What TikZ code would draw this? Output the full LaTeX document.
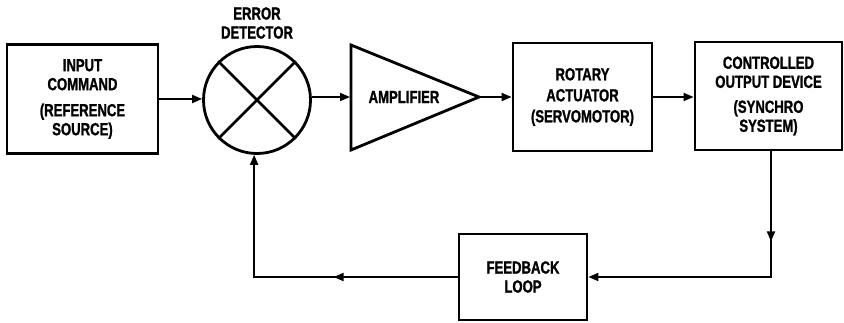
\documentclass[tikz,border=0pt]{standalone}
\usepackage{fontspec}
\setmainfont{Liberation Sans}[FakeStretch=0.75,FakeBold=1.2]
\usetikzlibrary{arrows.meta,decorations.markings}
\begin{document}
\begin{tikzpicture}[x=1pt,y=-1pt,
  boxline/.style={line width=2.8pt, line join=miter},
  blk/.style={boxline, draw, rectangle, inner sep=0pt, align=center,
    font=\fontsize{17.5}{19}\selectfont\bfseries},
  lbl/.style={inner sep=0pt, align=center, font=\fontsize{17.5}{19}\selectfont\bfseries},
  conn/.style={line width=1.9pt, -{Triangle[length=10pt,width=8pt]}},
  midarrow/.style={postaction={decorate}, decoration={markings,
    mark=at position #1 with {\arrow{Triangle[length=10pt,width=8pt]}}}}
]
\fill[white] (0,0) rectangle (844,322);
\useasboundingbox (0,0) rectangle (844,322);

% blocks
\node[blk, minimum width=151pt, minimum height=109pt] (inp) at (82.5,99)
  {INPUT\\COMMAND\\[7pt](REFERENCE\\SOURCE)};
\node[boxline, draw, circle, minimum size=107pt, inner sep=0pt] (det) at (257,100) {};
\draw[boxline] (det.45) -- (det.225) (det.135) -- (det.-45);
\node[lbl] (detlbl) at (257,23) {ERROR\\DETECTOR};

\draw[boxline] (351,45) -- (351,150) -- (479,97) -- cycle;
\coordinate (ampin) at (350,97);
\coordinate (ampout) at (479,97);
\node[lbl] (amp) at (404,97) {AMPLIFIER};

\node[blk, minimum width=139pt, minimum height=108pt] (rot) at (582.5,97)
  {ROTARY\\[2pt]ACTUATOR\\[2pt](SERVOMOTOR)};
\node[blk, minimum width=147pt, minimum height=108pt] (out) at (768.5,96)
  {CONTROLLED\\OUTPUT DEVICE\\[6pt](SYNCHRO\\SYSTEM)};
\node[blk, minimum width=128pt, minimum height=86pt] (fb) at (523,277)
  {FEEDBACK\\LOOP};

% forward path
\draw[conn] (inp.east |- 0,99) -- (det.west |- 0,99);
\draw[conn] (det.east |- ampin) -- (ampin);
\draw[conn] (ampout) -- (rot.west |- ampout);
\draw[conn] (rot.east |- 0,97) -- (out.west |- 0,97);

% feedback path
\coordinate (fbtop) at (771,0);
\coordinate (fbcorner) at (771,277);
\draw[conn, midarrow=90pt] (out.south -| fbtop) -- (fbcorner) -- (fb.east);
\draw[conn, midarrow=124pt] (fb.west) -- (fb.west -| det.-93) -- (det.-93);
\end{tikzpicture}
\end{document}
